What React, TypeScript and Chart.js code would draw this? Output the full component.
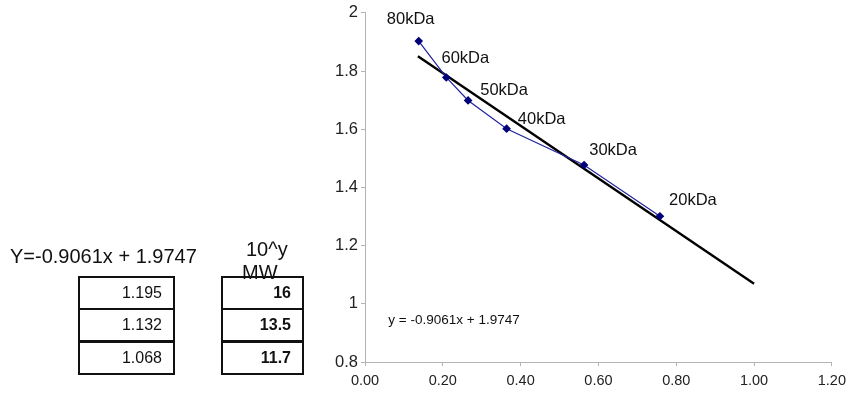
import React, { useEffect, useRef } from "react";
import { Chart, registerables } from "chart.js";

Chart.register(...registerables);

// ---- data ----
const markerLabels = ["80kDa", "60kDa", "50kDa", "40kDa", "30kDa", "20kDa"];
const relMobility = [0.138, 0.209, 0.265, 0.364, 0.563, 0.758];
const logMW = [1.903, 1.778, 1.699, 1.602, 1.477, 1.301];
const trendX = [0.136, 1.0];
const trendY = [1.851, 1.069];
const equationText = "y = -0.9061x + 1.9747";
const leftEquation = "Y=-0.9061x + 1.9747";
const sampleY = ["1.195", "1.132", "1.068"];
const sampleMW = ["16", "13.5", "11.7"];
const xTicksMin = 0;
const xTicksMax = 1.2;
const yTicksMin = 0.8;
const yTicksMax = 2;

// label offsets (style only)
const labelDx = [-8, 19, 36, 35, 29, 33];
const labelDy = [-22, -19, -10, -9, -15, -16];

const FONT = "Arial, 'Liberation Sans', sans-serif";

const labelPlugin = {
  id: "labelPlugin",
  afterDatasetsDraw(chart: any) {
    const ctx = chart.ctx;
    const meta = chart.getDatasetMeta(0);
    ctx.save();
    ctx.font = `16.5px ${FONT}`;
    ctx.fillStyle = "#111";
    ctx.textAlign = "center";
    ctx.textBaseline = "middle";
    meta.data.forEach((pt: any, i: number) => {
      ctx.fillText(markerLabels[i], pt.x + labelDx[i], pt.y + labelDy[i]);
    });
    const xs = chart.scales.x;
    const ys = chart.scales.y;
    ctx.font = `13.5px ${FONT}`;
    ctx.textAlign = "left";
    ctx.fillText(equationText, xs.getPixelForValue(0.06), ys.getPixelForValue(0.945));
    ctx.restore();
  },
};

export default function App() {
  const ref = useRef<HTMLCanvasElement | null>(null);

  useEffect(() => {
    if (!ref.current) return;
    const chart = new Chart(ref.current, {
      type: "scatter",
      data: {
        datasets: [
          {
            data: relMobility.map((x, i) => ({ x, y: logMW[i] })),
            showLine: true,
            borderColor: "#2222a0",
            borderWidth: 1.2,
            backgroundColor: "#00007a",
            pointBackgroundColor: "#00007a",
            pointBorderColor: "#00007a",
            pointStyle: "rectRot",
            pointRadius: 3.5,
            order: 1,
          },
          {
            data: trendX.map((x, i) => ({ x, y: trendY[i] })),
            showLine: true,
            borderColor: "#000",
            borderWidth: 2.4,
            pointRadius: 0,
            order: 2,
          },
        ],
      },
      options: {
        animation: false,
        responsive: false,
        maintainAspectRatio: false,
        layout: { padding: { left: 330, right: 15, top: 12, bottom: 0 } },
        plugins: { legend: { display: false }, tooltip: { enabled: false } },
        scales: {
          x: {
            type: "linear",
            min: xTicksMin,
            max: xTicksMax,
            afterFit: (s: any) => {
              s.height = 31;
            },
            ticks: {
              stepSize: 0.2,
              padding: 6,
              color: "#222",
              font: { size: 14.5, family: FONT },
              callback: (v: any) => Number(v).toFixed(2),
            },
            grid: { drawOnChartArea: false, tickLength: 4, color: "#b4b4b4" },
            border: { color: "#b4b4b4" },
          },
          y: {
            type: "linear",
            min: yTicksMin,
            max: yTicksMax,
            afterFit: (s: any) => {
              s.width = 35;
            },
            ticks: {
              stepSize: 0.2,
              padding: 3,
              color: "#222",
              font: { size: 16.5, family: FONT },
              callback: (v: any) => String(Number(Number(v).toFixed(1))),
            },
            grid: { drawOnChartArea: false, tickLength: 4, color: "#b4b4b4" },
            border: { color: "#b4b4b4" },
          },
        },
      },
      plugins: [labelPlugin],
    } as any);
    return () => chart.destroy();
  }, []);

  const rowTops = [276, 308, 341];
  const cell = (left: number, top: number, text: string, bold: boolean, key: string) => (
    <div
      key={key}
      style={{
        position: "absolute",
        left,
        top,
        width: left < 200 ? 97 : 83,
        height: 34,
        boxSizing: "border-box",
        border: "2px solid #111",
        textAlign: "right",
        paddingRight: 11,
        lineHeight: "30px",
        fontSize: 16,
        fontWeight: bold ? "bold" : "normal",
        fontFamily: FONT,
        color: "#111",
      }}
    >
      {text}
    </div>
  );

  return (
    <div
      style={{
        position: "fixed",
        left: 0,
        top: 0,
        width: 852,
        height: 393,
        background: "#fff",
        overflow: "hidden",
      }}
    >
      <canvas ref={ref} width={852} height={393} style={{ position: "absolute", left: 0, top: 0 }} />
      <div
        style={{
          position: "absolute",
          left: 10,
          top: 244,
          fontSize: 20,
          lineHeight: "24px",
          fontFamily: FONT,
          color: "#111",
          whiteSpace: "nowrap",
        }}
      >
        {leftEquation}
      </div>
      <div style={{ position: "absolute", left: 246, top: 237, fontSize: 20, lineHeight: "24px", fontFamily: FONT, color: "#111" }}>
        10^y
      </div>
      <div style={{ position: "absolute", left: 242, top: 260, fontSize: 20, lineHeight: "24px", fontFamily: FONT, color: "#111" }}>
        MW
      </div>
      {sampleY.map((v, i) => cell(78, rowTops[i], v, false, "a" + i))}
      {sampleMW.map((v, i) => cell(221, rowTops[i], v, true, "b" + i))}
    </div>
  );
}
